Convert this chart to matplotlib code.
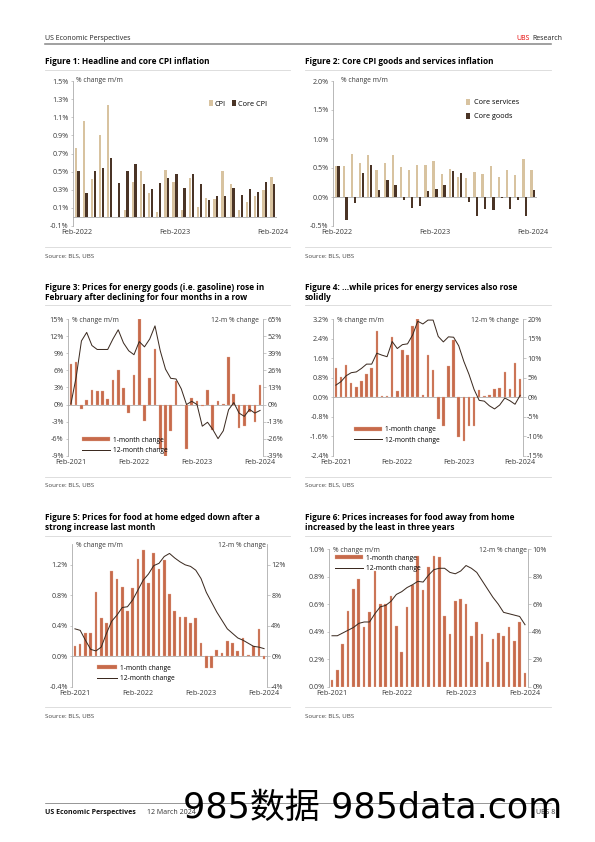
import matplotlib
matplotlib.use('Agg')
import matplotlib.pyplot as plt
from matplotlib.patches import Patch
from matplotlib.lines import Line2D

# ---- data ----
cpi = [0.76, 1.06, 0.42, 0.90, 1.24, 0.00, 0.08, 0.39, 0.51, 0.26, 0.05, 0.52, 0.39,
       0.08, 0.43, 0.11, 0.21, 0.20, 0.51, 0.36, 0.08, 0.16, 0.23, 0.30, 0.44]
core_cpi = [0.51, 0.26, 0.51, 0.54, 0.65, 0.37, 0.51, 0.58, 0.36, 0.31, 0.37, 0.43, 0.47,
            0.32, 0.47, 0.36, 0.19, 0.23, 0.23, 0.32, 0.24, 0.31, 0.28, 0.39, 0.36]
core_services = [0.53, 0.53, 0.75, 0.59, 0.72, 0.47, 0.59, 0.73, 0.52, 0.47, 0.56, 0.56, 0.62,
                 0.39, 0.49, 0.34, 0.32, 0.43, 0.39, 0.53, 0.34, 0.46, 0.38, 0.66, 0.47]
core_goods = [0.53, -0.39, -0.10, 0.41, 0.55, 0.12, 0.30, 0.20, -0.06, -0.19, -0.15, 0.10, 0.13,
              0.20, 0.44, 0.42, -0.09, -0.32, -0.20, -0.23, -0.02, -0.21, -0.06, -0.32, 0.12]

energy_goods_1m = [7.1, 7.4, -0.8, 0.8, 2.6, 2.4, 2.4, 1.0, 4.3, 6.0, 2.9, -1.4, 5.2, 15.0,
                   -2.9, 4.7, 9.7, -7.9, -9.2, -4.7, 4.2, -0.1, -7.8, 1.1, 0.6, -0.2, 2.5,
                   -4.5, 0.6, 0.1, 8.3, 1.8, -4.2, -3.8, -1.3, -3.1, 3.5]
energy_goods_12m = [0.5, 21, 48.5, 55, 45, 42, 42, 42, 50, 57, 47, 41, 38, 48, 44, 50, 60,
                    41, 27, 20, 19.5, 12, 0, 2.5, 0, -16.5, -13.5, -19, -26, -20, -4, 1.5,
                    -6.5, -9, -3.7, -6.5, -4.5]

energy_serv_1m = [1.22, 0.83, 1.32, 0.60, 0.40, 0.65, 0.96, 1.20, 2.70, 0.05, 0.07, 2.46, 0.25,
                  1.93, 1.72, 2.93, 3.22, 0.10, 1.72, 1.10, -0.88, -1.20, 1.28, 2.35, -1.63,
                  -1.78, -1.17, -1.20, 0.30, 0.05, 0.10, 0.32, 0.38, 1.03, 0.32, 1.42, 0.75]
energy_serv_12m = [3.1, 4.0, 5.5, 6.3, 6.5, 7.4, 8.5, 8.5, 11.3, 10.8, 10.4, 14.3, 12.5, 13.5,
                   13.7, 16.0, 19.5, 18.8, 19.8, 19.8, 15.6, 14.2, 15.5, 15.4, 13.2, 9.2, 5.9,
                   2.0, -0.8, -1.0, -2.2, -3.0, -2.0, -0.2, -0.9, -1.8, 0.5]

food_home_1m = [0.14, 0.16, 0.30, 0.31, 0.85, 0.50, 0.43, 1.12, 1.01, 0.91, 0.60, 0.90, 1.28,
                1.40, 0.96, 1.35, 1.14, 1.27, 0.82, 0.60, 0.51, 0.51, 0.44, 0.50, 0.17, -0.16,
                -0.16, 0.08, 0.04, 0.20, 0.18, 0.07, 0.24, 0.02, 0.14, 0.36, -0.03]
food_home_12m = [3.6, 3.4, 2.1, 0.9, 0.7, 1.2, 3.0, 4.6, 5.4, 6.4, 6.5, 7.4, 8.7, 10.0, 10.8,
                 11.9, 12.2, 13.1, 13.5, 12.9, 12.4, 12.0, 11.8, 11.3, 10.2, 8.4, 7.1, 5.8,
                 4.7, 3.6, 3.0, 2.4, 2.1, 1.7, 1.3, 1.2, 1.0]

food_away_1m = [0.05, 0.12, 0.31, 0.55, 0.71, 0.78, 0.43, 0.54, 0.84, 0.60, 0.60, 0.66, 0.44,
                0.25, 0.58, 0.74, 0.95, 0.70, 0.87, 0.95, 0.94, 0.51, 0.38, 0.62, 0.64, 0.60,
                0.37, 0.47, 0.38, 0.18, 0.35, 0.39, 0.37, 0.43, 0.33, 0.47, 0.10]
food_away_12m = [3.7, 3.7, 3.9, 4.1, 4.3, 4.6, 4.7, 4.7, 5.3, 5.8, 5.9, 6.2, 6.7, 6.9, 7.2,
                 7.4, 7.65, 7.6, 8.1, 8.5, 8.6, 8.6, 8.3, 8.2, 8.4, 8.8, 8.6, 8.3, 7.7, 7.1,
                 6.5, 6.0, 5.4, 5.3, 5.2, 5.1, 4.5]

labels_2y = ['Feb-2022', 'Feb-2023', 'Feb-2024']
labels_3y = ['Feb-2021', 'Feb-2022', 'Feb-2023', 'Feb-2024']

# ---- style ----
plt.rcParams['font.family'] = ['Open Sans', 'DejaVu Sans']
plt.rcParams['axes.unicode_minus'] = False
TAN = '#d8c3a0'
DARK = '#4a3426'
BAR = '#c76a4b'
BAR_EDGE = '#e8b5a0'
LINE = '#3b2a20'
GRID = '#a8a8a8'
TXT = '#3a3a3a'

FS_TICK = 7.2
FS_LAB = 6.8
FS_LEG = 6.6
FS_TITLE = 8.3
FS_SRC = 6.2

W, H = 595, 842
fig = plt.figure(figsize=(W / 72, H / 72), dpi=72)


def axes_px(x0, y0, x1, y1):
    return fig.add_axes([x0 / W, 1 - y1 / H, (x1 - x0) / W, (y1 - y0) / H])


def txt(x, y, s, **kw):
    kw.setdefault('va', 'center')
    fig.text(x / W, 1 - y / H, s, **kw)


def hline(x0, x1, y, color='#d6d6d6', lw=0.8):
    fig.add_artist(Line2D([x0 / W, x1 / W], [1 - y / H] * 2, color=color, lw=lw,
                          transform=fig.transFigure))


def style_axis(ax, ylim, yticks, fmt, xticks, xlabels):
    ax.set_ylim(*ylim)
    ax.set_yticks(yticks)
    ax.set_yticklabels([fmt.format(v) for v in yticks])
    ax.set_xticks(xticks)
    ax.set_xticklabels(xlabels)
    for s in ['top', 'right', 'bottom']:
        ax.spines[s].set_visible(False)
    ax.spines['left'].set_color(GRID)
    ax.spines['left'].set_linewidth(0.8)
    ax.tick_params(axis='y', length=2.5, width=0.6, color=GRID, labelsize=FS_TICK,
                   labelcolor=TXT, pad=2)
    ax.tick_params(axis='x', length=0, labelsize=FS_TICK, labelcolor=TXT, pad=3.5)
    ax.axhline(0, color=GRID, lw=0.8, zorder=0)
    ax.patch.set_visible(False)


# ---- page header / footer ----
txt(45, 38, 'US Economic Perspectives', fontsize=7.0, color='#222222')
txt(516, 38, 'UBS', fontsize=7.0, color='#e60000')
txt(532, 38, 'Research', fontsize=7.0, color='#222222')
hline(45, 551, 44, color='#8c8c8c', lw=1.6)

hline(45, 551, 803, color='#555555', lw=0.6)
txt(45, 812, 'US Economic Perspectives', fontsize=7.0, fontweight='bold', color='#111111')
txt(147, 812, '12 March 2024', fontsize=7.0, color='#333333')
txt(536, 812, 'UBS 8', fontsize=7.0, color='#333333')

# ---- Figure 1 ----
txt(45, 62, 'Figure 1: Headline and core CPI inflation', fontsize=FS_TITLE, fontweight='bold')
hline(45, 290, 70)
ax = axes_px(73, 81, 277, 226)
m = range(len(cpi))
ax.bar([i - 0.17 for i in m], cpi, width=0.28, color=TAN, label='CPI')
ax.bar([i + 0.17 for i in m], core_cpi, width=0.28, color=DARK, label='Core CPI')
ax.set_xlim(-0.5, 24.5)
yt = [-0.1, 0.1, 0.3, 0.5, 0.7, 0.9, 1.1, 1.3, 1.5]
style_axis(ax, (-0.1, 1.5), yt, '{:.1f}%', [0, 12, 24], labels_2y)
ax.text(0.015, 1.0, '% change m/m', transform=ax.transAxes, fontsize=FS_LAB, color=TXT,
        va='center', ha='left')
ax.legend(loc='center left', bbox_to_anchor=(209 / W, 1 - 104 / H),
          bbox_transform=fig.transFigure, ncol=2, frameon=False, fontsize=FS_TICK,
          handlelength=0.5, handleheight=0.9, handletextpad=0.3, columnspacing=0.9,
          borderpad=0, borderaxespad=0)
hline(45, 290, 247)
txt(45, 256, 'Source: BLS, UBS', fontsize=FS_SRC, color='#444444')

# ---- Figure 2 ----
txt(305, 62, 'Figure 2: Core CPI goods and services inflation', fontsize=FS_TITLE,
    fontweight='bold')
hline(305, 551, 70)
ax = axes_px(333, 81, 537, 226)
m = range(len(core_services))
ax.bar([i - 0.17 for i in m], core_services, width=0.28, color=TAN, label='Core services')
ax.bar([i + 0.17 for i in m], core_goods, width=0.28, color=DARK, label='Core goods')
ax.set_xlim(-0.5, 24.5)
yt = [-0.5, 0.0, 0.5, 1.0, 1.5, 2.0]
style_axis(ax, (-0.5, 2.0), yt, '{:.1f}%', [0, 12, 24], labels_2y)
ax.text(0.04, 1.0, '% change m/m', transform=ax.transAxes, fontsize=FS_LAB, color=TXT,
        va='center', ha='left')
ax.legend(loc='upper left', bbox_to_anchor=(466 / W, 1 - 99 / H),
          bbox_transform=fig.transFigure, frameon=False, fontsize=FS_TICK,
          handlelength=0.5, handleheight=0.9, handletextpad=0.6, labelspacing=0.9,
          borderpad=0, borderaxespad=0)
hline(305, 551, 247)
txt(305, 256, 'Source: BLS, UBS', fontsize=FS_SRC, color='#444444')


# ---- bar + line charts ----
def dual_chart(box, one_m, twelve_m, ylim, yticks, fmt, rlim, rticks, leg_xy, hlen,
               right_label_x):
    x0, y0, x1, y1 = box
    ax = axes_px(*box)
    m = range(len(one_m))
    ax.bar(m, one_m, width=0.5, color=BAR, edgecolor=BAR_EDGE, linewidth=0.3)
    ax.set_xlim(-0.5, 36.5)
    style_axis(ax, ylim, yticks, fmt, [0, 12, 24, 36], labels_3y)
    ax2 = ax.twinx()
    ax2.plot(m, twelve_m, color=LINE, lw=1.0)
    ax2.set_ylim(*rlim)
    ax2.set_yticks(rticks)
    ax2.set_yticklabels(['{:.0f}%'.format(v) for v in rticks])
    for s in ['top', 'left', 'bottom']:
        ax2.spines[s].set_visible(False)
    ax2.spines['right'].set_color(GRID)
    ax2.spines['right'].set_linewidth(0.8)
    ax2.tick_params(axis='y', length=2.5, width=0.6, color=GRID, labelsize=FS_TICK,
                    labelcolor=TXT, pad=2)
    txt(x0 + 4, y0 + 1, '% change m/m', fontsize=FS_LAB, color=TXT)
    txt(right_label_x, y0 + 1, '12-m % change', fontsize=FS_LAB, color=TXT, ha='right')
    handles = [Patch(facecolor=BAR, edgecolor=BAR_EDGE, lw=0.3),
               Line2D([], [], color=LINE, lw=1.0)]
    ax2.legend(handles, ['1-month change', '12-month change'], loc='upper left',
               bbox_to_anchor=(leg_xy[0] / W, 1 - leg_xy[1] / H),
               bbox_transform=fig.transFigure, frameon=False, fontsize=FS_LEG,
               handlelength=hlen, handleheight=0.6, handletextpad=0.5,
               labelspacing=0.55, borderpad=0, borderaxespad=0)
    return ax


# Figure 3
txt(45, 287, 'Figure 3: Prices for energy goods (i.e. gasoline) rose in', fontsize=FS_TITLE,
    fontweight='bold')
txt(45, 297.5, 'February after declining for four months in a row', fontsize=FS_TITLE,
    fontweight='bold')
hline(45, 290, 305)
dual_chart((68.3, 319.3, 262.7, 455.7), energy_goods_1m, energy_goods_12m,
           (-9, 15), list(range(-9, 16, 3)), '{:.0f}%',
           (-39, 65), list(range(-39, 66, 13)), (82, 436.5), 4.2, 259)
hline(45, 290, 477)
txt(45, 485, 'Source: BLS, UBS', fontsize=FS_SRC, color='#444444')

# Figure 4
txt(305, 287, 'Figure 4: ...while prices for energy services also rose', fontsize=FS_TITLE,
    fontweight='bold')
txt(305, 297.5, 'solidly', fontsize=FS_TITLE, fontweight='bold')
hline(305, 551, 305)
dual_chart((333.3, 319.3, 522.7, 455.7), energy_serv_1m, energy_serv_12m,
           (-2.4, 3.2), [-2.4, -1.6, -0.8, 0.0, 0.8, 1.6, 2.4, 3.2], '{:.1f}%',
           (-15, 20), list(range(-15, 21, 5)), (354, 426), 4.2, 519)
hline(305, 551, 477)
txt(305, 485, 'Source: BLS, UBS', fontsize=FS_SRC, color='#444444')

# Figure 5
txt(45, 517, 'Figure 5: Prices for food at home edged down after a', fontsize=FS_TITLE,
    fontweight='bold')
txt(45, 527.5, 'strong increase last month', fontsize=FS_TITLE, fontweight='bold')
hline(45, 290, 536)
dual_chart((72.3, 544.3, 266.7, 686.7), food_home_1m, food_home_12m,
           (-0.4, 1.47), [-0.4, 0.0, 0.4, 0.8, 1.2], '{:.1f}%',
           (-4, 14.7), [-4, 0, 4, 8, 12], (97, 664.5), 3.0, 266)
hline(45, 290, 707)
txt(45, 716, 'Source: BLS, UBS', fontsize=FS_SRC, color='#444444')

# Figure 6
txt(305, 517, 'Figure 6: Prices increases for food away from home', fontsize=FS_TITLE,
    fontweight='bold')
txt(305, 527.5, 'increased by the least in three years', fontsize=FS_TITLE,
    fontweight='bold')
hline(305, 551, 536)
dual_chart((329.3, 549, 527.7, 686.7), food_away_1m, food_away_12m,
           (0, 1.0), [0.0, 0.2, 0.4, 0.6, 0.8, 1.0], '{:.1f}%',
           (0, 10), [0, 2, 4, 6, 8, 10], (335, 554.5), 4.2, 527)
hline(305, 551, 707)
txt(305, 716, 'Source: BLS, UBS', fontsize=FS_SRC, color='#444444')

# watermark printed over the footer
txt(183, 808, '985数据 985data.com', fontsize=35, color='black',
    family=['DejaVu Sans', 'Noto Sans CJK SC'])

fig.savefig('out.png', dpi=72)
